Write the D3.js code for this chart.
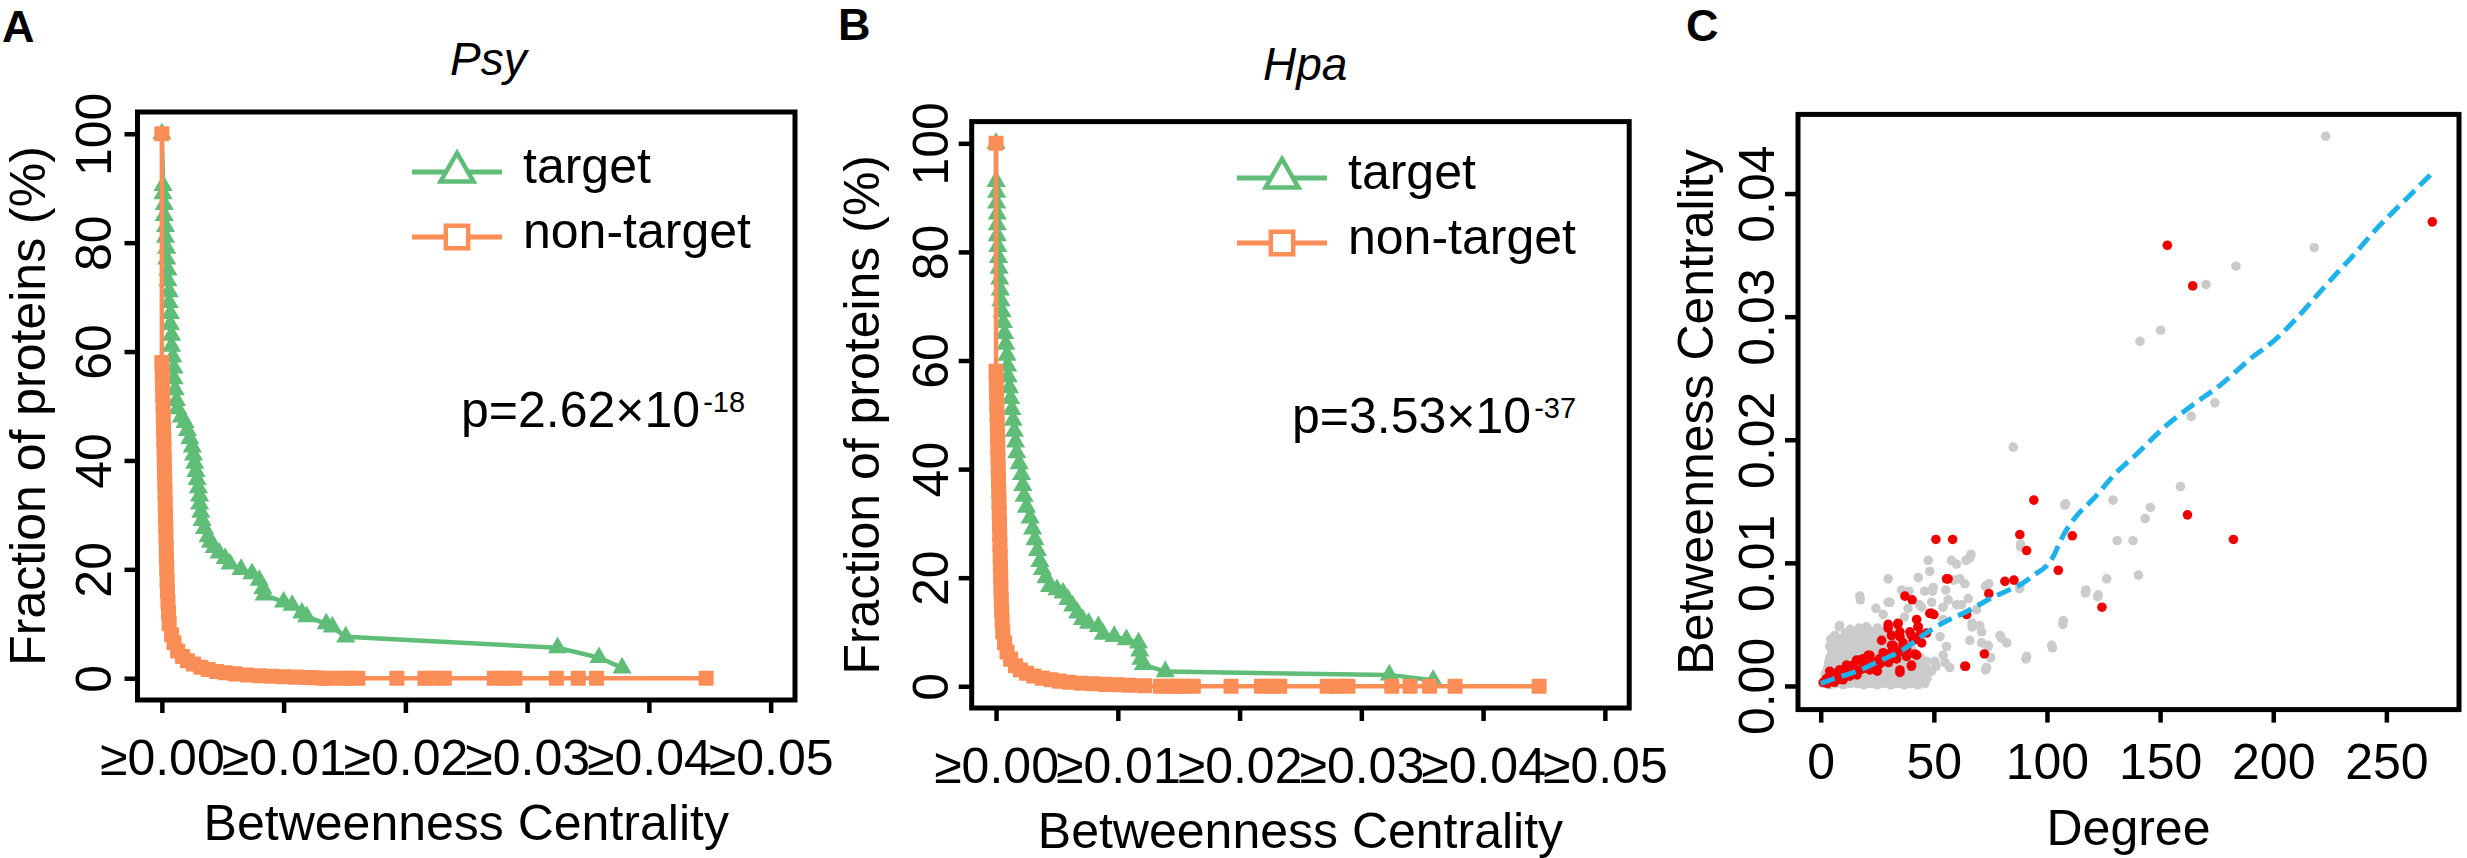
<!DOCTYPE html>
<html>
<head>
<meta charset="utf-8">
<script src="https://cdn.jsdelivr.net/npm/d3@7"></script>
<style>
  body { margin: 0; background: #fff; }
  svg { display: block; font-family: "Liberation Sans", Arial, sans-serif; }
</style>
</head>
<body>
<svg id="fig" width="2467" height="858"></svg>
<script>
// ---- data ----
var bcTicks = [0, 0.01, 0.02, 0.03, 0.04, 0.05];
var bcTickLabels = ["\u22650.00", "\u22650.01", "\u22650.02", "\u22650.03", "\u22650.04", "\u22650.05"];
var pctTicks = [0, 20, 40, 60, 80, 100];
var seriesNames = ["target", "non-target"];

// Psy: [betweenness threshold, % of proteins]
var psyTarget = [[0,100],[0.0001,90.5],[0.0001,89],[0.0002,87],[0.0002,85],[0.0003,83],[0.0003,81],[0.0004,79],[0.0004,77],
  [0.0005,75],[0.0005,73],[0.0006,71],[0.0006,69],[0.0007,67],[0.0007,65],[0.0008,63],[0.0008,61],[0.0009,59],[0.001,57],
  [0.001,55],[0.0011,53],[0.0012,51],[0.0013,49.5],[0.0016,48],[0.0019,47],[0.0021,45.5],[0.0023,44],[0.0025,42.5],
  [0.0026,41],[0.0027,39.5],[0.0028,38],[0.0029,36.5],[0.003,35],[0.0031,33.5],[0.0031,32],[0.0032,30.5],[0.0033,29],
  [0.0035,27.5],[0.0038,26],[0.004,25],[0.0043,24],[0.0047,23],[0.0052,22],[0.0056,21],[0.0065,20],[0.0074,19.2],
  [0.008,18],[0.0083,16.5],[0.0084,15.3],[0.01,14],[0.0107,13.4],[0.0115,12],[0.0119,11.3],[0.0135,10],[0.014,9.4],
  [0.0151,7.6],[0.0325,5.6],[0.0359,3.8],[0.0378,1.9]];
var psyNonTarget = [[0,100],[0,58],[0.00003,56],[0.00005,54],[0.00007,52],[0.0001,50],[0.00012,48],[0.00014,46],
  [0.00016,44],[0.00018,42],[0.0002,40],[0.00022,38],[0.00024,36],[0.00026,34],[0.00028,32],[0.0003,30],[0.00032,28],
  [0.00034,26],[0.00036,24],[0.00038,22],[0.0004,20],[0.00043,18],[0.00046,16],[0.0005,14],[0.00055,12],[0.0006,10],
  [0.0008,8],[0.001,6.5],[0.0013,5],[0.0017,4],[0.0021,3.2],[0.0026,2.6],[0.0032,2],[0.0038,1.6],[0.0045,1.25],
  [0.0052,1],[0.006,0.8],[0.007,0.6],[0.008,0.45],[0.009,0.35],[0.01,0.27],[0.011,0.2],[0.012,0.15],[0.0125,0.1],
  [0.0132,0],[0.0136,0],[0.0148,0],[0.0153,0],[0.0161,0],[0.0193,0],[0.0216,0],[0.0224,0],[0.0232,0],[0.0273,0],
  [0.0282,0],[0.029,0],[0.0324,0],[0.0342,0],[0.0357,0],[0.0447,0]];

// Hpa
var hpaTarget = [[0,100],[0,93],[0.00005,91],[0.00005,89],[0.0001,87],[0.0001,85],[0.0001,83],[0.00015,81],[0.0002,79],
  [0.00025,77],[0.0003,75],[0.00035,73],[0.0004,71],[0.0005,69],[0.0006,67],[0.0007,65],[0.0008,63],[0.0009,61],
  [0.00095,59],[0.001,57],[0.0011,55],[0.0012,53],[0.0013,51],[0.0014,49],[0.0015,47],[0.0016,45],[0.0017,43],
  [0.0019,41],[0.0021,39],[0.0022,37],[0.0023,35],[0.0025,33],[0.0028,31],[0.003,29],[0.0032,27],[0.0034,25],
  [0.0036,23],[0.0038,21.5],[0.0041,20],[0.0044,18.4],[0.005,17.8],[0.0055,17.2],[0.0059,16],[0.0063,14.8],
  [0.0067,13.5],[0.0071,12.3],[0.0076,11.6],[0.0084,11],[0.0088,9.6],[0.0097,9.2],[0.0107,8.6],[0.0117,8],
  [0.0118,6.5],[0.0119,5],[0.0121,4],[0.0139,2.7],[0.0323,2.1],[0.0359,1.1]];
var hpaNonTarget = [[0,100],[0,58],[0.00002,56],[0.00004,54],[0.00006,52],[0.00008,50],[0.0001,48],[0.00012,46],
  [0.00014,44],[0.00016,42],[0.00018,40],[0.0002,38],[0.00022,36],[0.00024,34],[0.00026,32],[0.00028,30],[0.0003,28],
  [0.00032,26],[0.00034,24],[0.00036,22],[0.00038,20],[0.0004,18],[0.00043,16],[0.00046,14],[0.0005,12],[0.00055,10],
  [0.0007,8],[0.0009,6.3],[0.0012,5],[0.0016,3.8],[0.002,3],[0.0025,2.4],[0.0031,1.9],[0.0038,1.5],[0.0045,1.2],
  [0.0052,0.95],[0.006,0.75],[0.007,0.55],[0.008,0.45],[0.009,0.35],[0.01,0.27],[0.011,0.2],[0.0122,0.1],
  [0.0135,0],[0.0143,0],[0.0148,0],[0.0153,0],[0.0162,0],[0.0193,0],[0.0218,0],[0.0226,0],[0.0233,0],[0.0272,0],
  [0.0281,0],[0.0289,0],[0.0325,0],[0.034,0],[0.0356,0],[0.0377,0],[0.0446,0]];

// panel C: degree vs betweenness
var degTicks = [0, 50, 100, 150, 200, 250];
var bcTicksC = [0, 0.01, 0.02, 0.03, 0.04];
var otherProteins = [[223.2,0.04465],[218.1,0.0356],[183.5,0.0341],[170.3,0.0326],[150.2,0.0289],[141.1,0.028],
  [174.2,0.023],[163.7,0.0219],[85.1,0.0194],[159,0.0162],[129.2,0.0151],[107.8,0.0147],[145.7,0.0145],[143.4,0.0136],
  [131,0.0118],[138,0.0118],[88.4,0.0113],[140.4,0.009],[126.4,0.0087],[122.4,0.00725],[117,0.00756],[107,0.005],
  [102.4,0.0031],[90.7,0.0022],[72.8,0.0013],[73.9,0.0032],[79.8,0.0039],[87.9,0.0079],[72.8,0.0081],[65.8,0.0104],
  [60,0.0099],[58.8,0.0086],[17.5,0.007],[8.2,0.0048],[4.4,0.0038],[54.1,0.0064],[62.3,0.0066],[66.9,0.0048],
  [75.1,0.0023],[49.4,0.0077],[39,0.0077],[43.6,0.0066],[108.2,0.0148],[88.3,0.0115],[66.4,0.0107],[64.2,0.0102],
  [57.8,0.0102],[47.5,0.0102],[48.2,0.0093],[43.1,0.0088],[29.8,0.0087],[61.5,0.0087],[63.7,0.0083],[74.3,0.0083],
  [88,0.0081],[49.7,0.008],[46,0.0077],[55.3,0.0078],[35.7,0.0078],[17.3,0.0073],[56.3,0.007],[65.2,0.0071],
  [29.8,0.0068],[49,0.0068],[60,0.0066],[24.4,0.0063],[38.6,0.0063],[68.9,0.0062],[44.6,0.0064],[27.6,0.0058],
  [54.1,0.0054],[66.9,0.0051],[70.3,0.0049],[71.1,0.0044],[79.2,0.0041],[107.2,0.0053],[117.2,0.0078],[122.7,0.0074],
  [8.4,0.0049],[6.2,0.0041],[20.2,0.0048],[14.3,0.0041],[4,0.0032],[52.7,0.004],[71.1,0.0035],[82.2,0.0035],
  [74,0.0033],[102.1,0.0033],[65.9,0.0037],[55.6,0.0032],[91,0.0024],[54.1,0.0025],[50.4,0.002],[46.8,0.002],
  [73.3,0.0015],[49,0.0012],[42.4,0.0005],[51,0.0016],[55,0.0019],[57,0.0015],[30.6,0.0068],[37,0.0056],
  // dense cloud at low degree
  [1,0.0002],[4,0.0001],[7,0.0002],[10,0.0001],[13,0.0002],[16,0.0002],[19,0.0001],[22,0.0002],[25,0.0001],
  [28,0.0002],[31,0.0001],[34,0.0002],[37,0.0001],[40,0.0002],[43,0.0001],[46,0.0002],
  [2,0.0006],[5,0.0005],[8,0.0006],[11,0.0006],[14,0.0005],[17,0.0006],[20,0.0006],[23,0.0005],[26,0.0006],
  [29,0.0006],[32,0.0005],[35,0.0006],[38,0.0006],[41,0.0005],[44,0.0006],[47,0.0006],
  [2,0.001],[5.5,0.001],[9,0.0011],[12,0.001],[15,0.0011],[18,0.001],[21,0.001],[24,0.0011],[27,0.001],
  [30,0.001],[33,0.0011],[36,0.001],[39,0.001],[42,0.0011],[45,0.001],
  [3,0.0014],[6,0.0015],[9.5,0.0014],[13,0.0015],[16,0.0014],[19,0.0015],[22,0.0014],[25,0.0015],[28,0.0014],
  [31,0.0015],[34,0.0014],[37,0.0015],[40,0.0014],[43,0.0015],[47,0.0014],
  [3.5,0.0019],[7,0.0018],[10,0.0019],[13.5,0.0018],[17,0.0019],[20,0.0018],[23,0.0019],[26.5,0.0018],[30,0.0019],
  [33,0.0018],[36,0.0019],[39,0.0018],[42,0.0019],[45,0.0018],
  [4,0.0023],[7.5,0.0022],[11,0.0023],[14,0.0022],[17.5,0.0023],[21,0.0022],[24,0.0023],[27,0.0022],[30.5,0.0023],
  [34,0.0022],[37,0.0023],[40,0.0022],[44,0.0023],
  [5,0.0027],[8,0.0026],[11.5,0.0027],[15,0.0026],[18,0.0027],[21.5,0.0026],[25,0.0027],[28,0.0026],[31,0.0027],
  [35,0.0026],[38,0.0027],[42,0.0026],
  [5.5,0.0031],[9,0.003],[12.5,0.0031],[16,0.003],[19,0.0031],[22.5,0.003],[26,0.0031],[29,0.003],[32,0.0031],
  [36,0.003],[40,0.0031],
  [7,0.0035],[10.5,0.0034],[14,0.0035],[17,0.0034],[20.5,0.0035],[24,0.0034],[27,0.0035],[30,0.0034],[34,0.0035],
  [38,0.0034],
  [9,0.0039],[12.5,0.0038],[16,0.0039],[19,0.0038],[22.5,0.0039],[26,0.0038],[29,0.0039],[33,0.0038],[36,0.0039],
  [11,0.0043],[15,0.0042],[18.5,0.0043],[22,0.0042],[25.5,0.0043],[29,0.0042],[32,0.0043],
  [13,0.0046],[17,0.0047],[21,0.0046],[25,0.0047],[29,0.0046]];
var targetProteins = [[270.3,0.0377],[153.2,0.0358],[164.4,0.0325],[94.2,0.0151],[162.1,0.0139],[182.4,0.0119],
  [88,0.0123],[91,0.011],[111.2,0.0122],[105,0.0094],[50.9,0.0119],[58.3,0.0119],[56.3,0.0087],[81.4,0.0085],
  [85.4,0.0086],[74.3,0.0075],[124.3,0.0064],[37.2,0.0073],[40.4,0.007],[48.2,0.0059],[50,0.0058],[64.5,0.0058],
  [29.8,0.0047],[34,0.005],[43.1,0.0048],[35,0.004],[40.1,0.0041],[46.8,0.0043],[31.3,0.0033],[36.4,0.0032],
  [44.6,0.0035],[41.6,0.0026],[37.9,0.0024],[33.5,0.0022],[40.1,0.0016],[35,0.0011],[72.3,0.0026],[64,0.0016],
  [29.8,0.0024],[26.1,0.0018],[21.7,0.0025],[21,0.0017],[17.3,0.0021],[14.3,0.0017],[11.4,0.0014],[8.4,0.0013],
  [5.5,0.001],[2.6,0.0006],[1.1,0.0003],[7,0.0005],[12.9,0.0008],[9.9,0.0005],[16.5,0.0012],[24.7,0.0016],
  [18.7,0.0014],[4.8,0.0006],[14.3,0.001],[27.6,0.0027],[42.4,0.0054],[21.7,0.0013],[3,0.0002],[6,0.0003],
  [10,0.0009],[13,0.0012],[16,0.0009],[19,0.0018],[23,0.002],[26,0.0022],[28,0.002],[31,0.0027],[33,0.0029],
  [38,0.003],[42,0.0038],[44,0.0042],[30,0.0019],[25,0.0012],
  [4,0.0012],[8.4,0.0013],[11.4,0.0017],[15.8,0.0021],[18.7,0.0022],[21,0.0025],[12.9,0.001],[7,0.0006],
  [9.9,0.0008],[17.3,0.0013],[29.8,0.005],[34.2,0.0051],[31.3,0.0041],[35,0.0044],[39.4,0.0044],[43,0.0048],
  [32,0.0033],[36.4,0.0035],[40.9,0.0037],[34.2,0.0027],[42.4,0.0025],[40.1,0.0017],[35,0.0013],[26.9,0.0037],
  [49,0.0059],[55.6,0.0087],[63.7,0.0016]];
var loessDeg = [0, 6, 13, 20, 28, 35, 40, 45, 50, 57, 63, 70, 76, 82, 88, 95, 100, 103, 106, 109, 113, 120, 130,
  140, 153, 165, 177, 190, 200, 212, 223, 235, 247, 259, 271];
var loessBc = [0.0002, 0.0006, 0.001, 0.0015, 0.0022, 0.0028, 0.0034, 0.0041, 0.0047, 0.0054, 0.0059, 0.0066,
  0.0072, 0.0077, 0.0082, 0.0091, 0.0098, 0.0106, 0.0118, 0.0128, 0.0138, 0.0151, 0.0172, 0.0189, 0.0212, 0.0229,
  0.0245, 0.0266, 0.028, 0.0302, 0.0325, 0.0349, 0.0374, 0.0396, 0.0418];

// ---- drawing ----
var svg = d3.select("#fig");
var FS = 50;
var green = "#5fbd78", orange = "#fb8d57";

function styleAxis(g) {
    g.select(".domain").remove();
    g.selectAll(".tick line").attr("stroke", "#000").attr("stroke-width", 4.5);
    g.selectAll(".tick text").attr("font-size", FS).attr("fill", "#000")
        .attr("font-family", "'Liberation Sans', Arial, sans-serif");
}

function frame(L, T, R, B) {
    svg.append("rect")
        .attr("x", L).attr("y", T).attr("width", R - L).attr("height", B - T)
        .attr("fill", "none").attr("stroke", "#000").attr("stroke-width", 5);
}

function cdfPanel(p) {
    var x = d3.scaleLinear().domain([-0.002, 0.052]).range([p.L, p.R]);
    var y = d3.scaleLinear().domain([-4, 104]).range([p.B, p.T]);

    var xa = svg.append("g").attr("transform", "translate(0," + p.B + ")")
        .call(d3.axisBottom(x).tickValues(bcTicks).tickSize(13).tickFormat(function(d, i){ return bcTickLabels[i]; }));
    styleAxis(xa);
    xa.selectAll(".tick text").attr("y", p.xLabGap).attr("dy", 0);

    var ya = svg.append("g").attr("transform", "translate(" + p.L + ",0)")
        .call(d3.axisLeft(y).tickValues(pctTicks).tickSize(13));
    styleAxis(ya);
    ya.selectAll(".tick text").attr("transform", "rotate(-90)")
        .attr("x", 0).attr("y", -p.yLabGap).attr("dy", 0).attr("text-anchor", "middle");

    var line = d3.line().x(function(d){ return x(d[0]); }).y(function(d){ return y(d[1]); });
    var tri = d3.symbol().type(d3.symbolTriangle).size(120);
    var sq = d3.symbol().type(d3.symbolSquare).size(170);

    svg.append("path").datum(p.target).attr("d", line)
        .attr("fill", "none").attr("stroke", green).attr("stroke-width", 4.5);
    svg.append("g").selectAll("path").data(p.target).join("path")
        .attr("transform", function(d){ return "translate(" + x(d[0]) + "," + y(d[1]) + ")"; })
        .attr("d", tri).attr("fill", green).attr("stroke", green).attr("stroke-width", 1.5);

    svg.append("path").datum(p.non).attr("d", line)
        .attr("fill", "none").attr("stroke", orange).attr("stroke-width", 4.5);
    svg.append("g").selectAll("path").data(p.non).join("path")
        .attr("transform", function(d){ return "translate(" + x(d[0]) + "," + y(d[1]) + ")"; })
        .attr("d", sq).attr("fill", orange).attr("stroke", orange).attr("stroke-width", 2).attr("stroke-linejoin", "round");

    frame(p.L, p.T, p.R, p.B);

    // legend
    var lg = svg.append("g");
    var keys = [
        {name: seriesNames[0], col: green, sym: d3.symbol().type(d3.symbolTriangle).size(470), y: p.legY[0]},
        {name: seriesNames[1], col: orange, sym: d3.symbol().type(d3.symbolSquare).size(500), y: p.legY[1]}
    ];
    keys.forEach(function(k){
        lg.append("line").attr("x1", p.legX).attr("x2", p.legX + 90).attr("y1", k.y).attr("y2", k.y)
            .attr("stroke", k.col).attr("stroke-width", 5);
        lg.append("path").attr("d", k.sym()).attr("transform", "translate(" + (p.legX + 45) + "," + k.y + ")")
            .attr("fill", "#fff").attr("stroke", k.col).attr("stroke-width", 4.5);
        lg.append("text").attr("x", p.legX + 111).attr("y", k.y + 11).attr("font-size", FS).text(k.name);
    });

    // p value
    var pt = svg.append("text").attr("x", p.pX).attr("y", p.pY).attr("font-size", FS);
    pt.append("tspan").text(p.pText);
    pt.append("tspan").attr("dy", -15).attr("dx", 3).attr("font-size", 29).text(p.pExp);

    // titles and axis labels
    svg.append("text").attr("x", p.titleX).attr("y", p.titleY).attr("font-size", 46)
        .attr("font-style", "italic").text(p.title);
    svg.append("text").attr("x", (p.L + p.R) / 2).attr("y", p.B + 140).attr("font-size", FS)
        .attr("text-anchor", "middle").text("Betweenness Centrality");
    svg.append("text").attr("transform", "translate(" + (p.L - 93) + "," + ((p.T + p.B) / 2) + ") rotate(-90)")
        .attr("font-size", FS).attr("text-anchor", "middle").text("Fraction of proteins (%)");
    svg.append("text").attr("x", p.letterX).attr("y", p.letterY).attr("font-size", 45)
        .attr("font-weight", "bold").text(p.letter);
}

cdfPanel({L: 137.5, R: 795, T: 112, B: 700, target: psyTarget, non: psyNonTarget,
    xLabGap: 75, yLabGap: 27, legX: 412, legY: [172, 237], pX: 461, pY: 427,
    pText: "p=2.62\u00d710", pExp: "-18", title: "Psy", titleX: 450, titleY: 75,
    letter: "A", letterX: 2, letterY: 42});
cdfPanel({L: 971.7, R: 1629.2, T: 121.6, B: 708, target: hpaTarget, non: hpaNonTarget,
    xLabGap: 75, yLabGap: 24, legX: 1237, legY: [178, 243], pX: 1292, pY: 433,
    pText: "p=3.53\u00d710", pExp: "-37", title: "Hpa", titleX: 1263, titleY: 80,
    letter: "B", letterX: 838, letterY: 40});

// panel C
(function(){
    var L = 1798, R = 2459, T = 114.4, B = 709.6;
    var x = d3.scaleLinear().domain([-10.04, 282.1]).range([L, R]);
    var y = d3.scaleLinear().domain([-0.00192, 0.04643]).range([B, T]);

    var xa = svg.append("g").attr("transform", "translate(0," + B + ")")
        .call(d3.axisBottom(x).tickValues(degTicks).tickSize(13));
    styleAxis(xa);
    xa.selectAll(".tick text").attr("y", 69).attr("dy", 0);

    var ya = svg.append("g").attr("transform", "translate(" + L + ",0)")
        .call(d3.axisLeft(y).tickValues(bcTicksC).tickSize(13).tickFormat(d3.format(".2f")));
    styleAxis(ya);
    ya.selectAll(".tick text").attr("transform", "rotate(-90)")
        .attr("x", 0).attr("y", -24).attr("dy", 0).attr("text-anchor", "middle");

    svg.append("g").selectAll("circle").data(otherProteins).join("circle")
        .attr("cx", function(d){ return x(d[0]); }).attr("cy", function(d){ return y(d[1]); })
        .attr("r", 4.8).attr("fill", "#cbcbcb");
    svg.append("g").selectAll("circle").data(targetProteins).join("circle")
        .attr("cx", function(d){ return x(d[0]); }).attr("cy", function(d){ return y(d[1]); })
        .attr("r", 4.8).attr("fill", "#f00000");

    var fit = d3.line().curve(d3.curveMonotoneX)
        .x(function(d, i){ return x(loessDeg[i]); }).y(function(d){ return y(d); });
    svg.append("path").datum(loessBc).attr("d", fit)
        .attr("fill", "none").attr("stroke", "#1eb1ea").attr("stroke-width", 5)
        .attr("stroke-dasharray", "15,7");

    frame(L, T, R, B);

    svg.append("text").attr("x", (L + R) / 2).attr("y", B + 135).attr("font-size", FS)
        .attr("text-anchor", "middle").text("Degree");
    svg.append("text").attr("transform", "translate(" + (L - 85) + "," + ((T + B) / 2) + ") rotate(-90)")
        .attr("font-size", FS).attr("text-anchor", "middle").text("Betweenness Centrality");
    svg.append("text").attr("x", 1686).attr("y", 41).attr("font-size", 45)
        .attr("font-weight", "bold").text("C");
})();
</script>
</body>
</html>
